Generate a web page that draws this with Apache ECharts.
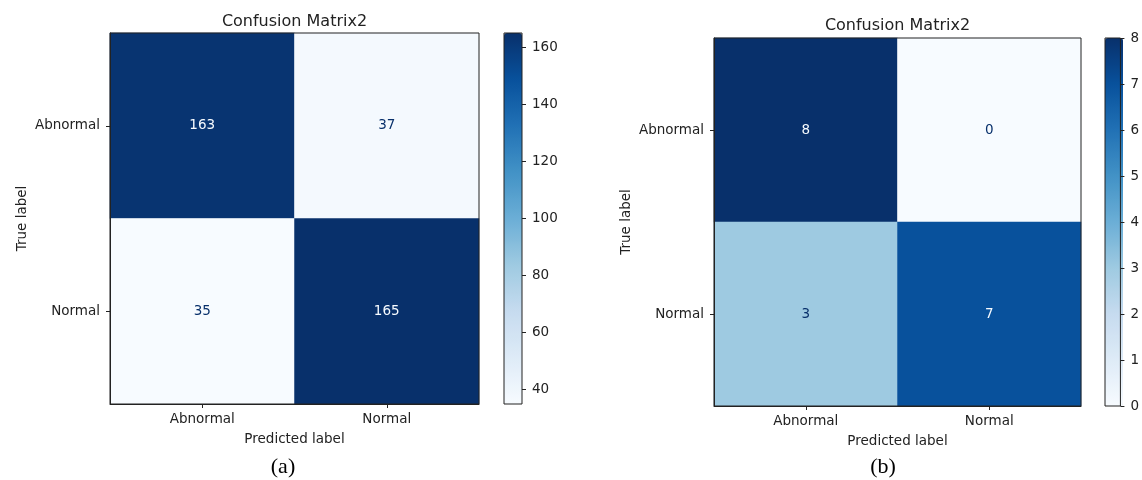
<!DOCTYPE html>
<html>
<head>
<meta charset="utf-8">
<title>Confusion Matrix2</title>
<script src="https://cdn.jsdelivr.net/npm/echarts@6/dist/echarts.min.js"></script>
<style>
  html, body { margin: 0; padding: 0; background: #ffffff; }
  #main { width: 1142px; height: 480px; }
</style>
</head>
<body>
<div id="main"></div>
<script>
// Class names shared by both matrices (rows = true label, columns = predicted label)
const classes = ['Abnormal', 'Normal'];

// Confusion matrix counts
const matrixA = [[163, 37], [35, 165]];
const matrixB = [[8, 0], [3, 7]];

// Colour bar ranges and tick values
const rangeA = [35, 165];
const rangeB = [0, 8];
const ticksA = [40, 60, 80, 100, 120, 140, 160];
const ticksB = [0, 1, 2, 3, 4, 5, 6, 7, 8];

// Panel titles and captions
const titles = ['Confusion Matrix2', 'Confusion Matrix2'];
const captions = ['(a)', '(b)'];

// matplotlib "Blues" colour map
const blues = ['#f7fbff', '#deebf7', '#c6dbef', '#9ecae1', '#6baed6',
               '#4292c6', '#2171b5', '#08519c', '#08306b'];

const FONT = 'DejaVu Sans';
const INK = '#222222';

// Layout of the two panels: plot box, colour bar box, title and caption anchors
const layout = [
  { plot: { left: 110, top: 33, width: 369, height: 371 },
    bar:  { left: 504, top: 33, width: 18, height: 371 },
    titleY: 22, captionX: 283 },
  { plot: { left: 714, top: 38, width: 367, height: 368 },
    bar:  { left: 1105, top: 38, width: 18, height: 368 },
    titleY: 26, captionX: 883 }
];

const matrices = [matrixA, matrixB];
const ranges = [rangeA, rangeB];
const tickSets = [ticksA, ticksB];

// Heatmap cells; text is dark on light cells and light on dark cells
function cells(matrix) {
  const flat = matrix.flat();
  const thresh = (Math.min(...flat) + Math.max(...flat)) / 2;
  const out = [];
  matrix.forEach((row, i) => {
    row.forEach((v, j) => {
      out.push({
        value: [j, i, v],
        label: { color: v < thresh ? blues[8] : blues[0] }
      });
    });
  });
  return out;
}

const grid = [], xAxis = [], yAxis = [], series = [], visualMap = [], title = [];

layout.forEach((p, k) => {
  // heatmap grid
  grid.push(Object.assign({ show: true, borderColor: INK, borderWidth: 1, z: 3,
                            backgroundColor: 'transparent' }, p.plot));
  // colour bar grid (frame + tick axis)
  grid.push(Object.assign({ show: true, borderColor: INK, borderWidth: 1, z: 6,
                            backgroundColor: 'transparent' }, p.bar));
  const gPlot = 2 * k, gBar = 2 * k + 1;

  xAxis.push({
    type: 'category', data: classes, gridIndex: gPlot, z: 3,
    axisLine: { show: true, onZero: false, lineStyle: { color: INK, width: 1 } },
    axisTick: { show: true, alignWithLabel: true, length: 4, lineStyle: { color: INK } },
    axisLabel: { fontFamily: FONT, fontSize: 13.5, color: INK, margin: 8 },
    splitLine: { show: false },
    name: 'Predicted label', nameLocation: 'middle', nameGap: 28,
    nameTextStyle: { fontFamily: FONT, fontSize: 13.5, color: INK }
  });
  yAxis.push({
    type: 'category', data: classes, gridIndex: gPlot, inverse: true, z: 3,
    axisLine: { show: true, onZero: false, lineStyle: { color: INK, width: 1 } },
    axisTick: { show: true, alignWithLabel: true, length: 4, lineStyle: { color: INK } },
    axisLabel: { fontFamily: FONT, fontSize: 13.5, color: INK, margin: 10 },
    splitLine: { show: false },
    name: 'True label', nameLocation: 'middle', nameGap: 81, nameRotate: 90,
    nameTextStyle: { fontFamily: FONT, fontSize: 13.5, color: INK }
  });

  // colour bar axes: hidden x, tick axis on the right edge
  xAxis.push({ type: 'value', gridIndex: gBar, show: false, min: 0, max: 1 });
  yAxis.push({
    type: 'value', gridIndex: gBar, position: 'right', z: 6,
    min: ranges[k][0], max: ranges[k][1],
    axisLine: { show: false, onZero: false },
    axisTick: { show: true, inside: false, length: 4, customValues: tickSets[k],
                lineStyle: { color: INK } },
    axisLabel: { fontFamily: FONT, fontSize: 13.5, color: INK, margin: 10,
                 customValues: tickSets[k] },
    splitLine: { show: false }
  });

  series.push({
    type: 'heatmap', xAxisIndex: gPlot, yAxisIndex: gPlot,
    data: cells(matrices[k]),
    itemStyle: { borderWidth: 0 },
    label: { show: true, fontFamily: FONT, fontSize: 13.5,
             formatter: (d) => String(d.value[2]) },
    emphasis: { disabled: true }
  });

  // the continuous visual map doubles as the colour bar gradient
  visualMap.push({
    type: 'continuous', seriesIndex: k, dimension: 2,
    min: ranges[k][0], max: ranges[k][1],
    inRange: { color: blues },
    orient: 'vertical', calculable: false, hoverLink: false,
    left: p.bar.left, top: p.bar.top,
    itemWidth: p.bar.width, itemHeight: p.bar.height,
    padding: 0, text: null, z: 4
  });

  const cx = p.plot.left + p.plot.width / 2;
  title.push({
    text: titles[k], left: cx, top: p.titleY, padding: 0,
    textAlign: 'center', textVerticalAlign: 'middle',
    textStyle: { fontFamily: FONT, fontSize: 16, fontWeight: 'normal', color: INK }
  });
  title.push({
    text: captions[k], left: p.captionX, top: 467, padding: 0,
    textAlign: 'center', textVerticalAlign: 'middle',
    textStyle: { fontFamily: 'Liberation Serif', fontSize: 22, fontWeight: 'normal', color: '#000000' }
  });
});

const chart = echarts.init(document.getElementById('main'), null, { renderer: 'canvas' });
chart.setOption({
  backgroundColor: '#ffffff',
  animation: false,
  title, grid, xAxis, yAxis, visualMap, series
});
</script>
</body>
</html>
